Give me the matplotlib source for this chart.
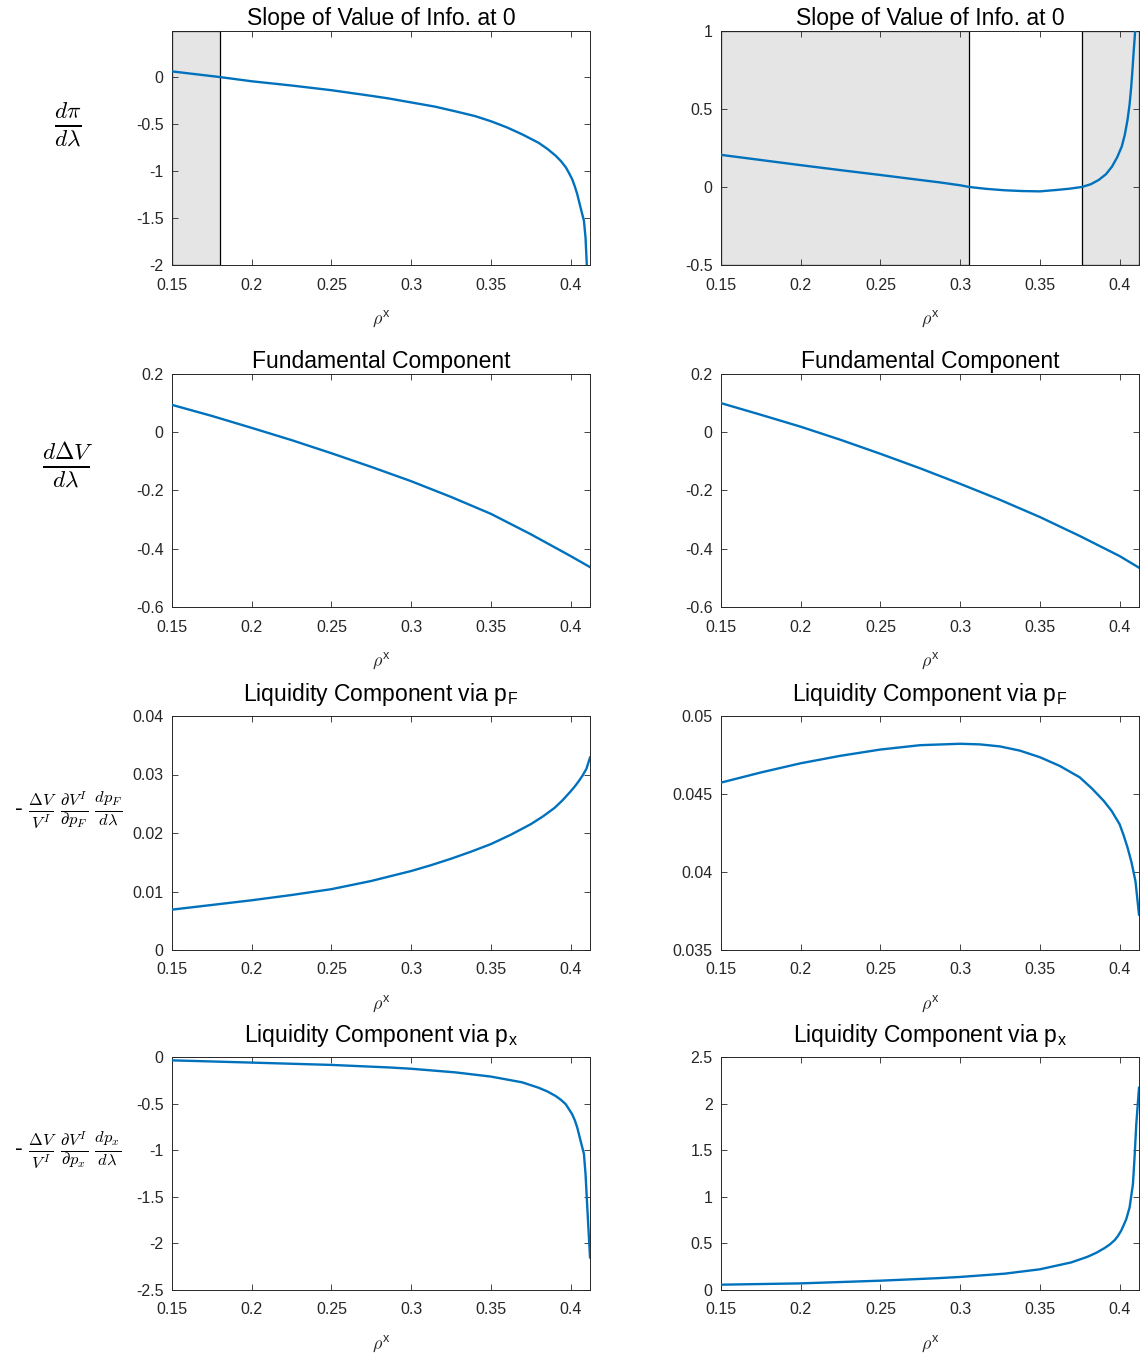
import numpy as np
import matplotlib
matplotlib.use("Agg")
import matplotlib.pyplot as plt

# values, x is rho^x
# row 1: slope of value of info at 0
rho_slope_L = [0.15, 0.18, 0.2, 0.225, 0.25, 0.275, 0.286, 0.3, 0.315, 0.3278, 0.34, 0.35, 0.36,
               0.3697, 0.38, 0.3855, 0.3906, 0.394, 0.397, 0.399, 0.401, 0.4027, 0.4042, 0.4063,
               0.4084, 0.4094, 0.4102, 0.4122]
slope_L = [0.06, 0.0, -0.045, -0.09, -0.14, -0.2, -0.228, -0.27, -0.315, -0.365, -0.415, -0.47, -0.535,
           -0.61, -0.7, -0.765, -0.836, -0.895, -0.96, -1.02, -1.086, -1.165, -1.246, -1.39,
           -1.53, -1.71, -2.0, -2.7]
rho_slope_R = [0.15, 0.175, 0.2, 0.225, 0.25, 0.275, 0.2869, 0.3, 0.3058, 0.3165, 0.3279, 0.339,
               0.35, 0.3604, 0.3685, 0.3764, 0.382, 0.3869, 0.3915, 0.3952, 0.3985, 0.4014, 0.4033,
               0.405, 0.4063, 0.4073, 0.4081, 0.4088, 0.4098, 0.4122]
slope_R = [0.206, 0.173, 0.14, 0.108, 0.077, 0.045, 0.03, 0.011, 0.0, -0.012, -0.021, -0.026,
           -0.028, -0.019, -0.011, 0.0, 0.018, 0.045, 0.082, 0.13, 0.19, 0.26, 0.335,
           0.43, 0.53, 0.64, 0.75, 0.86, 1.0, 1.7]
shade_L = [(0.15, 0.1801)]
shade_R = [(0.15, 0.3058), (0.3764, 0.4122)]

# row 2: fundamental component
rho_fund = [0.15, 0.175, 0.2, 0.225, 0.25, 0.275, 0.3, 0.325, 0.35, 0.375, 0.4, 0.4122]
fund_L = [0.094, 0.056, 0.015, -0.027, -0.072, -0.119, -0.168, -0.222, -0.28, -0.35, -0.425, -0.463]
fund_R = [0.10, 0.06, 0.019, -0.026, -0.074, -0.124, -0.177, -0.232, -0.291, -0.356, -0.425, -0.465]

# row 3: liquidity component via p_F
rho_liqF = [0.15, 0.175, 0.2, 0.225, 0.25, 0.275, 0.3, 0.3125, 0.325, 0.3375, 0.35, 0.3625, 0.375,
            0.3825, 0.39, 0.395, 0.4, 0.4025, 0.405, 0.4075, 0.41, 0.4122]
liqF_L = [0.0069, 0.0077, 0.0085, 0.0094, 0.0104, 0.0118, 0.0135, 0.0145, 0.0156, 0.0168, 0.0181,
          0.0197, 0.0215, 0.0228, 0.0243, 0.0256, 0.0271, 0.0279, 0.0288, 0.0298, 0.031, 0.0329]
liqF_R = [0.04573, 0.04638, 0.04697, 0.04745, 0.04785, 0.04813, 0.04822, 0.04818, 0.04805, 0.04778,
          0.04736, 0.0468, 0.04607, 0.04537, 0.04457, 0.04392, 0.04307, 0.04237, 0.04157, 0.04062,
          0.0394, 0.03727]

# row 4: liquidity component via p_x
rho_liqx = [0.15, 0.2, 0.25, 0.286, 0.3, 0.3278, 0.35, 0.3697, 0.38, 0.3855, 0.3906, 0.394, 0.397,
            0.399, 0.401, 0.4027, 0.4042, 0.4063, 0.4084, 0.4094, 0.4105, 0.4122]
liqx_L = [-0.036, -0.06, -0.085, -0.112, -0.126, -0.165, -0.21, -0.272, -0.33, -0.37, -0.418, -0.46,
          -0.507, -0.56, -0.614, -0.68, -0.757, -0.9, -1.04, -1.257, -1.614, -2.15]
liqx_R = [0.057, 0.071, 0.1, 0.127, 0.14, 0.175, 0.222, 0.296, 0.357, 0.4, 0.45, 0.49, 0.536,
          0.58, 0.636, 0.7, 0.76, 0.886, 1.136, 1.42, 1.78, 2.17]

x_ticks = [0.15, 0.2, 0.25, 0.3, 0.35, 0.4]
x_ticklabels = ["0.15", "0.2", "0.25", "0.3", "0.35", "0.4"]

titles = ["Slope of Value of Info. at 0", "Fundamental Component",
          r"Liquidity Component via p$_{\mathregular{F}}$",
          r"Liquidity Component via p$_{\mathregular{x}}$"]
row_labels = [r"$\frac{d\pi}{d\lambda}$",
              r"$\frac{d\Delta V}{d\lambda}$",
              r"- $\frac{\Delta V}{V^I}\;\frac{\partial V^I}{\partial p_F}\;\frac{dp_F}{d\lambda}$",
              r"- $\frac{\Delta V}{V^I}\;\frac{\partial V^I}{\partial p_x}\;\frac{dp_x}{d\lambda}$"]

plt.rcParams['font.family'] = ['Liberation Sans', 'DejaVu Sans']
plt.rcParams['mathtext.fontset'] = 'cm'

blue = '#0072BD'
dark = '0.15'

fig = plt.figure(figsize=(11.41, 13.53), dpi=100)
W, H = 1141.0, 1353.0
col_x = [172, 721]
row_y = [(31, 265), (374, 607), (716, 950), (1057, 1290)]
ax_w = 418

# panels: (x, y, ylim, yticks, yticklabels, shading)
panels = [
    [(rho_slope_L, slope_L, (-2, 0.49), [-2, -1.5, -1, -0.5, 0], ["-2", "-1.5", "-1", "-0.5", "0"], shade_L),
     (rho_slope_R, slope_R, (-0.5, 1), [-0.5, 0, 0.5, 1], ["-0.5", "0", "0.5", "1"], shade_R)],
    [(rho_fund, fund_L, (-0.6, 0.2), [-0.6, -0.4, -0.2, 0, 0.2], ["-0.6", "-0.4", "-0.2", "0", "0.2"], []),
     (rho_fund, fund_R, (-0.6, 0.2), [-0.6, -0.4, -0.2, 0, 0.2], ["-0.6", "-0.4", "-0.2", "0", "0.2"], [])],
    [(rho_liqF, liqF_L, (0, 0.04), [0, 0.01, 0.02, 0.03, 0.04], ["0", "0.01", "0.02", "0.03", "0.04"], []),
     (rho_liqF, liqF_R, (0.035, 0.05), [0.035, 0.04, 0.045, 0.05], ["0.035", "0.04", "0.045", "0.05"], [])],
    [(rho_liqx, liqx_L, (-2.5, 0), [-2.5, -2, -1.5, -1, -0.5, 0], ["-2.5", "-2", "-1.5", "-1", "-0.5", "0"], []),
     (rho_liqx, liqx_R, (0, 2.5), [0, 0.5, 1, 1.5, 2, 2.5], ["0", "0.5", "1", "1.5", "2", "2.5"], [])],
]

label_y = [125, 466, 810, 1150]
label_size = [24, 24, 17, 17]
title_pad = [4.5, 4.5, 10.5, 10.5]

for r in range(4):
    top, bot = row_y[r]
    for c in range(2):
        xs, ys, ylim, yt, ytl, shades = panels[r][c]
        ax = fig.add_axes([col_x[c] / W, 1 - bot / H, ax_w / W, (bot - top) / H])
        for a, b in shades:
            ax.axvspan(a, b, facecolor='0.898', edgecolor='black', linewidth=0.9, zorder=0)
        ax.plot(xs, ys, color=blue, linewidth=1.7, zorder=3, solid_joinstyle='round')
        ax.set_xlim(0.15, 0.4122)
        ax.set_ylim(*ylim)
        ax.set_xticks(x_ticks)
        ax.set_xticklabels(x_ticklabels)
        ax.set_yticks(yt)
        ax.set_yticklabels(ytl)
        ax.tick_params(direction='in', top=True, right=True, length=4, width=0.6,
                       colors=dark, labelsize=11.5, labelcolor=dark)
        ax.tick_params(axis='x', pad=9)
        ax.tick_params(axis='y', pad=6)
        for s in ax.spines.values():
            s.set_color(dark)
            s.set_linewidth(0.7)
        ax.set_title(titles[r], fontsize=16.5, pad=title_pad[r], color='black')
        ax.set_xlabel(r"$\rho^{\mathregular{x}}$", fontsize=13, color=dark, labelpad=12)
    fig.text(68 / W, 1 - label_y[r] / H, row_labels[r], ha='center', va='center',
             fontsize=label_size[r], color='black')

fig.savefig("out.png", dpi=100)
